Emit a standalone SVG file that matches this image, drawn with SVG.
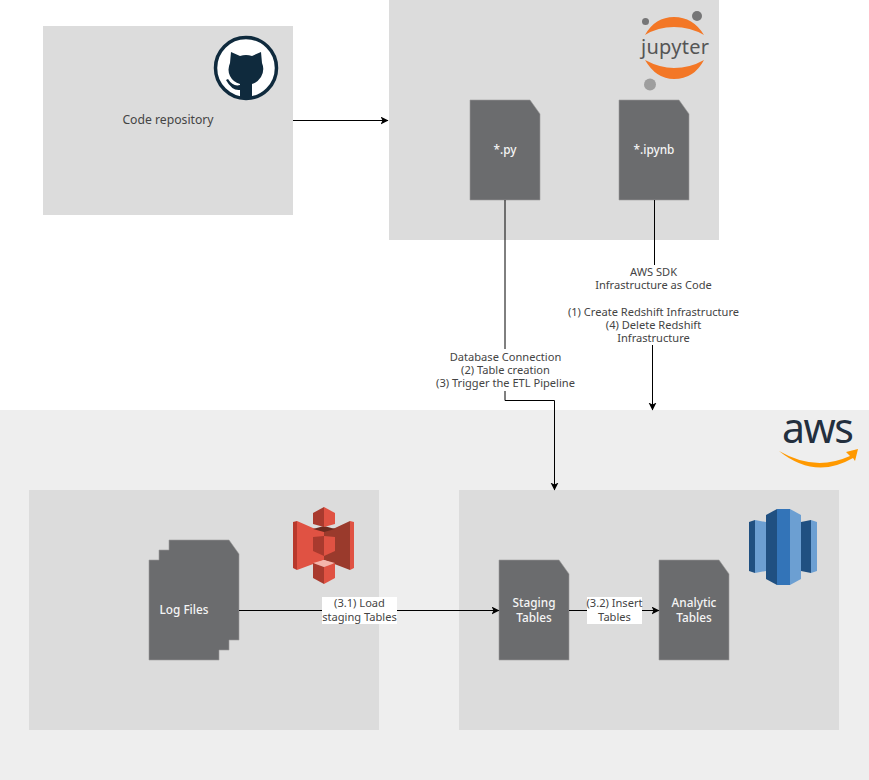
<svg xmlns="http://www.w3.org/2000/svg" width="869" height="780" viewBox="0 0 869 780">
<style>
text{font-family:"Noto Sans","Open Sans",sans-serif;font-size:11.100px;fill:#444;text-anchor:middle}
.box{fill:#dcdcdc}
.doc{fill:#6b6c6e;stroke:#9a9a9a;stroke-width:.6}
.dt{fill:#f5f5f5;font-weight:500;font-size:11.800px}
.c{fill:none;stroke:#000;stroke-width:1}
</style>
<defs>
<marker id="a" markerWidth="9" markerHeight="9" refX="7.500" refY="4" orient="auto" markerUnits="userSpaceOnUse"><path d="M0 0L8 4L0 8L2 4Z" fill="#000"/></marker>
<path id="d" d="M0 0H60L70 14V100H0Z"/>
</defs>
<rect width="869" height="780" fill="#fff"/>
<rect id="aws-bg" x="0" y="410" width="869" height="370" fill="#eeeeee"/>
<g id="repo"><rect class="box" x="43" y="26" width="250" height="189"/><text x="168" y="124" style="font-size:12.200px">Code repository</text>
<circle cx="246" cy="68" r="30.500" fill="#fff" stroke="#0f2a3d" stroke-width="3.500"/>
<path fill="#0f2a3d" d="M231 52L240 56Q246 54 252 56L261 52L262 63Q265 70 261 77Q257 83 252 84V98H240V90Q232 91 226 80L228 79Q233 87 240 85V84Q233 82 230 76Q227 70 230 63Z"/></g>
<g id="jupyter"><rect class="box" x="389" y="0" width="330" height="240"/>
<path fill="#f37726" d="M645 35Q655 17 674 17Q693 17 704 35Q690 27 674 27Q658 27 645 35Z"/>
<path fill="#f37726" d="M645 60Q660 68 674 68Q690 68 704 60Q694 79 674 79Q656 79 645 60Z"/>
<circle cx="645.500" cy="21.500" r="3.500" fill="#767677"/><circle cx="697" cy="16" r="5" fill="#767677"/><circle cx="650" cy="84.500" r="6" fill="#9e9e9e"/>
<text x="675" y="54" textLength="68" style="font-size:20px;fill:#555">jupyter</text></g>
<g id="py"><use href="#d" x="470" y="100" class="doc"/><text class="dt" x="505" y="154">*.py</text></g>
<g id="ipynb"><use href="#d" x="619" y="100" class="doc"/><text class="dt" x="654" y="154">*.ipynb</text></g>
<g id="aws-logo"><text x="818" y="443" textLength="72" style="font-size:41px;font-weight:400;fill:#232f3e">aws</text>
<path fill="#f90" d="M779 451Q815 472 850 456L846 452L858 449L855 461L853 458Q815 480 779 451Z"/></g>
<g id="s3-box"><rect class="box" x="29" y="490" width="350" height="240"/>
<g id="s3"><path fill="#b8392c" d="M293 522L297 521V570L293 568Z"/><path fill="#e05243" d="M297 521L313 528L324 531V560L297 570Z"/>
<path fill="#e05243" d="M350 521L354 522V568L350 570Z"/><path fill="#9a3a2c" d="M350 521L335 528L324 531V560L350 570Z"/>
<path fill="#6b2a1f" d="M313 529L324 526L335 529L324 532Z"/>
<path fill="#a93a2e" d="M313 513L324 507V527L313 524Z"/><path fill="#e05243" d="M324 507L335 513V524L324 527Z"/>
<path fill="#a93a2e" d="M313 537L324 536V556L313 551Z"/><path fill="#e05243" d="M324 536L335 537V551L324 556Z"/>
<path fill="#f5b5ac" d="M313 563L324 560L335 563L324 567Z"/><path fill="#a93a2e" d="M313 563L324 567V584L313 578Z"/><path fill="#e05243" d="M324 567L335 563V578L324 584Z"/></g></g>
<g id="log-files"><path class="doc" d="M169 540H229L239 554V640H229V650H219V660H149V560H159V550H169Z"/><text class="dt" x="184" y="614">Log Files</text></g>
<g id="redshift-box"><rect class="box" x="459" y="490" width="380" height="240"/>
<g id="redshift"><path fill="#205081" d="M749 522L755 520V573L749 571Z"/><path fill="#6c9fd2" d="M755 520L766 522V571L755 573Z"/>
<path fill="#205081" d="M766 515L777 509V585L766 579Z"/><path fill="#3374b8" d="M777 509H790V585H777Z"/><path fill="#6c9fd2" d="M790 509L801 515V579L790 585Z"/>
<path fill="#205081" d="M801 522L811 520V573L801 571Z"/><path fill="#6c9fd2" d="M811 520L817 522V571L811 573Z"/></g></g>
<g id="staging"><use href="#d" x="499" y="560" class="doc"/><text class="dt" x="534" y="607">Staging</text><text class="dt" x="534" y="622">Tables</text></g>
<g id="analytic"><use href="#d" x="659" y="560" class="doc"/><text class="dt" x="694" y="607">Analytic</text><text class="dt" x="694" y="622">Tables</text></g>
<g id="connectors">
<path class="c" d="M293 120.500H388" marker-end="url(#a)"/>
<path class="c" d="M505 200V349M505 391V400.500H554.500V490" marker-end="url(#a)"/>
<path class="c" d="M654.500 200V265M652.500 345V410" marker-end="url(#a)"/>
<path class="c" d="M239 610.500H499" marker-end="url(#a)"/>
<path class="c" d="M569 610.500H659" marker-end="url(#a)"/>
</g>
<g id="labels">
<text x="505.500" y="361">Database Connection</text><text x="505.500" y="374">(2) Table creation</text><text x="505.500" y="387">(3) Trigger the ETL Pipeline</text>
<text x="653.500" y="276">AWS SDK</text><text x="653.500" y="289">Infrastructure as Code</text><text x="653.500" y="316">(1) Create Redshift Infrastructure</text><text x="653.500" y="329">(4) Delete Redshift</text><text x="653.500" y="342">Infrastructure</text>
<rect x="322" y="597" width="75" height="27" fill="#fff"/><text x="359.500" y="607">(3.1) Load</text><text x="359.500" y="621">staging Tables</text>
<rect x="587" y="597" width="55" height="27" fill="#fff"/><text x="614.500" y="607">(3.2) Insert</text><text x="614.500" y="621">Tables</text>
</g>
</svg>
